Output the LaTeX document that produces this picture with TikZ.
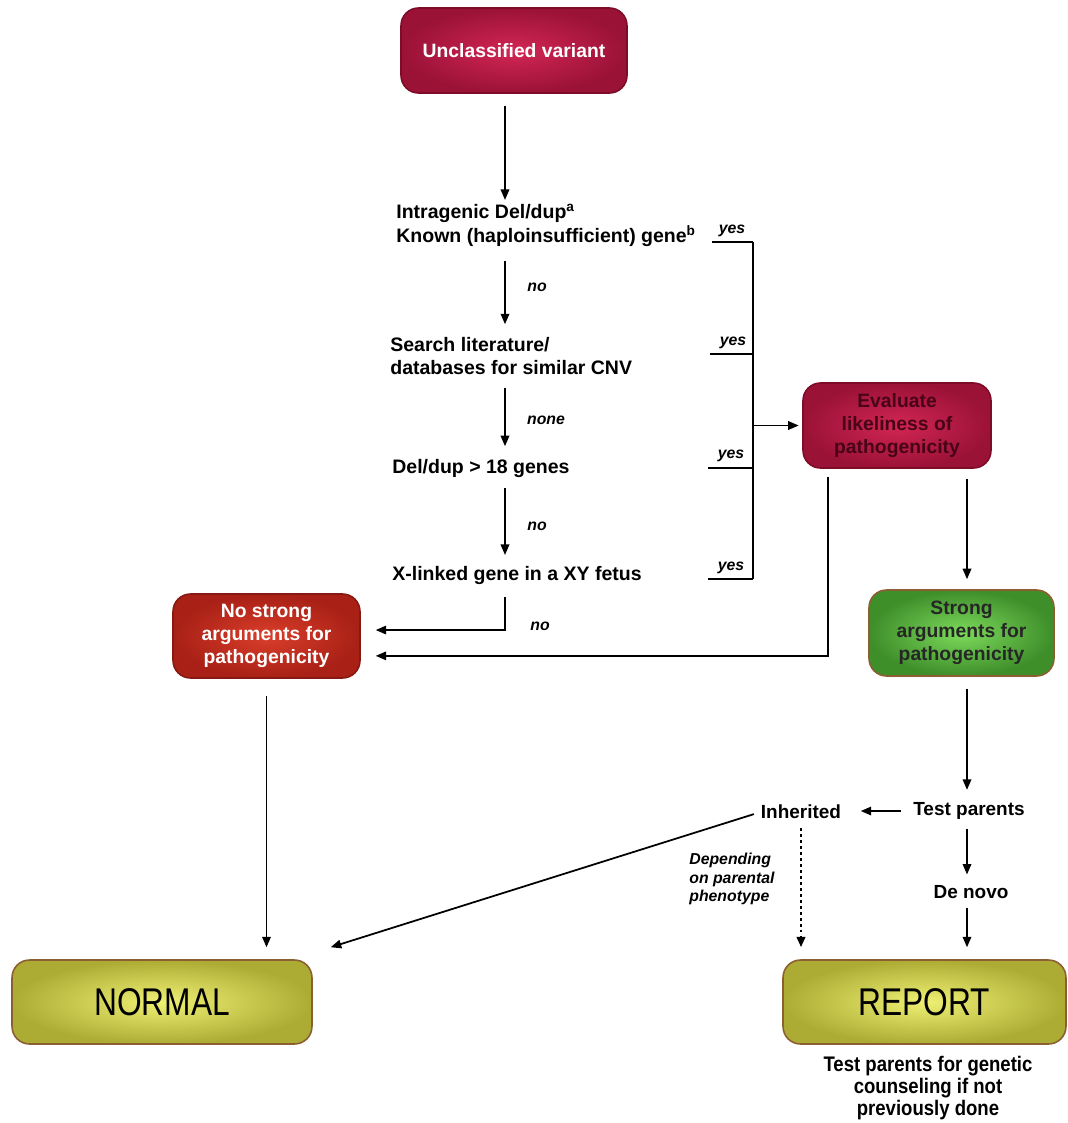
\documentclass[tikz,border=0pt]{standalone}
\usepackage{fontspec}
\setmainfont{Liberation Sans}
\usetikzlibrary{arrows.meta,calc}
\definecolor{crimOut}{RGB}{155,18,55}
\definecolor{crimIn}{RGB}{210,38,84}
\definecolor{crimLine}{RGB}{125,12,40}
\definecolor{crimText}{RGB}{72,4,22}
\definecolor{redOut}{RGB}{168,32,22}
\definecolor{redIn}{RGB}{218,62,42}
\definecolor{grOut}{RGB}{62,142,42}
\definecolor{grIn}{RGB}{125,218,92}
\definecolor{olOut}{RGB}{172,172,52}
\definecolor{olIn}{RGB}{238,240,115}
\definecolor{brLine}{RGB}{140,95,50}
\begin{document}
\begin{tikzpicture}[x=0.02cm,y=-0.02cm,
  box/.style={rounded corners=0.35cm, draw, line width=0.9pt, align=center, inner sep=2pt,
    font=\fontsize{11}{13}\selectfont\bfseries},
  crimbox/.style={box, draw=crimLine, inner color=crimIn, outer color=crimOut},
  redbox/.style={box, draw=redOut!80!black, inner color=redIn, outer color=redOut, text=white},
  grbox/.style={box, draw=brLine, inner color=grIn, outer color=grOut, text=black!85},
  olbox/.style={box, draw=brLine, inner color=olIn, outer color=olOut, text=black,
    font=\fontsize{22}{24}\selectfont},
  cond/.style={font=\fontsize{11.1}{13.6}\selectfont\bfseries, align=left, inner sep=0pt, anchor=west},
  plain/.style={font=\fontsize{10.8}{12.5}\selectfont\bfseries, inner sep=0pt},
  lab/.style={font=\fontsize{9}{10.5}\selectfont\bfseries\itshape, inner sep=0pt},
  arr/.style={-{Triangle[length=2.1mm,width=1.7mm]}, line width=1pt},
  ln/.style={line width=1pt}
]
\useasboundingbox (0,0) rectangle (1068,1123);

% boxes
\node[crimbox, text=white, minimum width=4.52cm, minimum height=1.7cm] (unc) at (514,50.5) {Unclassified variant};
\node[crimbox, text=crimText, minimum width=3.76cm, minimum height=1.7cm] (ev) at (897,425.5) {Evaluate\\likeliness of\\pathogenicity};
\node[redbox, minimum width=3.74cm, minimum height=1.68cm] (ns) at (266.5,636) {No strong\\arguments for\\pathogenicity};
\node[grbox, minimum width=3.7cm, minimum height=1.72cm] (st) at (961.5,633) {Strong\\arguments for\\pathogenicity};
\node[olbox, minimum width=6.0cm, minimum height=1.68cm] (nm) at (162,1002) {\scalebox{0.82}[1]{NORMAL}};
\node[olbox, minimum width=5.66cm, minimum height=1.68cm] (rp) at (924.5,1002) {\scalebox{0.82}[1]{REPORT}};

% conditions
\node[cond] (q1) at (396,225) {Intragenic Del/dup\textsuperscript{a}\\Known (haploinsufficient) gene\textsuperscript{b}};
\node[cond] (q2) at (390,356) {Search literature/\\databases for similar CNV};
\node[cond] (q3) at (392,468) {Del/dup > 18 genes};
\node[cond] (q4) at (392,575) {X-linked gene in a XY fetus};

% plain texts
\node[plain] (tp) at (969,811) {Test parents};
\node[plain] (inh) at (801,812) {Inherited};
\node[plain] (dn) at (971,892) {De novo};
\node[plain, align=center, font=\fontsize{12}{12.6}\selectfont\bfseries] (note) at (928,1088)
  {\scalebox{0.88}[1]{Test parents for genetic}\\\scalebox{0.88}[1]{counseling if not}\\\scalebox{0.88}[1]{previously done}};
\node[lab, align=left, anchor=west] (dep) at (689,879) {Depending\\on parental\\phenotype};

% labels
\node[lab] (lno1) at (537,287) {no};
\node[lab] (lnone) at (546,420) {none};
\node[lab] (lno2) at (537,526) {no};
\node[lab] (lno3) at (540,626) {no};
\node[lab] (ly1) at (732,231) {yes};
\node[lab] (ly2) at (733,343) {yes};
\node[lab] (ly3) at (731,456) {yes};
\node[lab] (ly4) at (731,568) {yes};

% coordinates
\coordinate (sx) at (505,0);
\coordinate (bar) at (753,0);
\coordinate (ex) at (828,0);
\coordinate (rx) at (967,0);
\coordinate (yA) at (712,242);
\coordinate (yB) at (710,354);
\coordinate (yC) at (708,468);
\coordinate (yD) at (708,579);
\coordinate (nsA) at ([yshift=3.4pt]ns.east);
\coordinate (nsB) at ([yshift=-11.3pt]ns.east);
\coordinate (nmIn) at ($(nm.north east)+(18,-12)$);

% spine
\draw[arr, shorten <=6.8pt, shorten >=2pt] (unc.south -| sx) -- (q1.north -| sx);
\draw[arr, shorten <=8pt, shorten >=7pt] (q1.south -| sx) -- (q2.north -| sx);
\draw[arr, shorten <=7pt, shorten >=7pt] (q2.south -| sx) -- (q3.north -| sx);
\draw[arr, shorten <=5.7pt, shorten >=6pt] (q3.south -| sx) -- (q4.north -| sx);
\draw[arr, shorten <=7pt, shorten >=8.5pt] (q4.south -| sx) -- (sx |- nsA) -- (nsA);

% yes collector
\draw[ln] (yA) -- (yA -| bar);
\draw[ln] (yB) -- (yB -| bar);
\draw[ln] (yC) -- (yC -| bar);
\draw[ln] (yD) -- (yD -| bar);
\draw[ln] (yA -| bar) -- (yD -| bar);
\draw[arr, shorten >=2pt] (ev.west -| bar) -- (ev.west);

% evaluate outputs
\draw[arr, shorten <=4.5pt, shorten >=8.5pt] (ev.south -| ex) -- (ex |- nsB) -- (nsB);
\draw[arr, shorten <=5.7pt, shorten >=5.7pt] (ev.south -| rx) -- (st.north -| rx);
\draw[arr, shorten <=6.8pt, shorten >=7pt] (st.south -| rx) -- (tp.north -| rx);

% parents
\draw[arr, shorten <=7pt, shorten >=11pt] (tp.west) -- (tp.west -| inh.east);
\draw[arr, shorten <=5pt, shorten >=6pt] (tp.south -| rx) -- (dn.north -| rx);
\draw[arr, shorten <=5pt, shorten >=6.8pt] (dn.south -| rx) -- (rp.north -| rx);
\draw[arr, line width=1.6pt, dash pattern=on 1.6pt off 1.8pt, shorten <=5pt, shorten >=6.8pt] (inh.south) -- (inh.south |- rp.north);
\draw[arr, shorten <=4pt] (inh.west) -- (nmIn);

% no strong to normal
\draw[arr, shorten <=10pt, shorten >=6.8pt] (ns.south) -- (ns.south |- nm.north);
\end{tikzpicture}
\end{document}
